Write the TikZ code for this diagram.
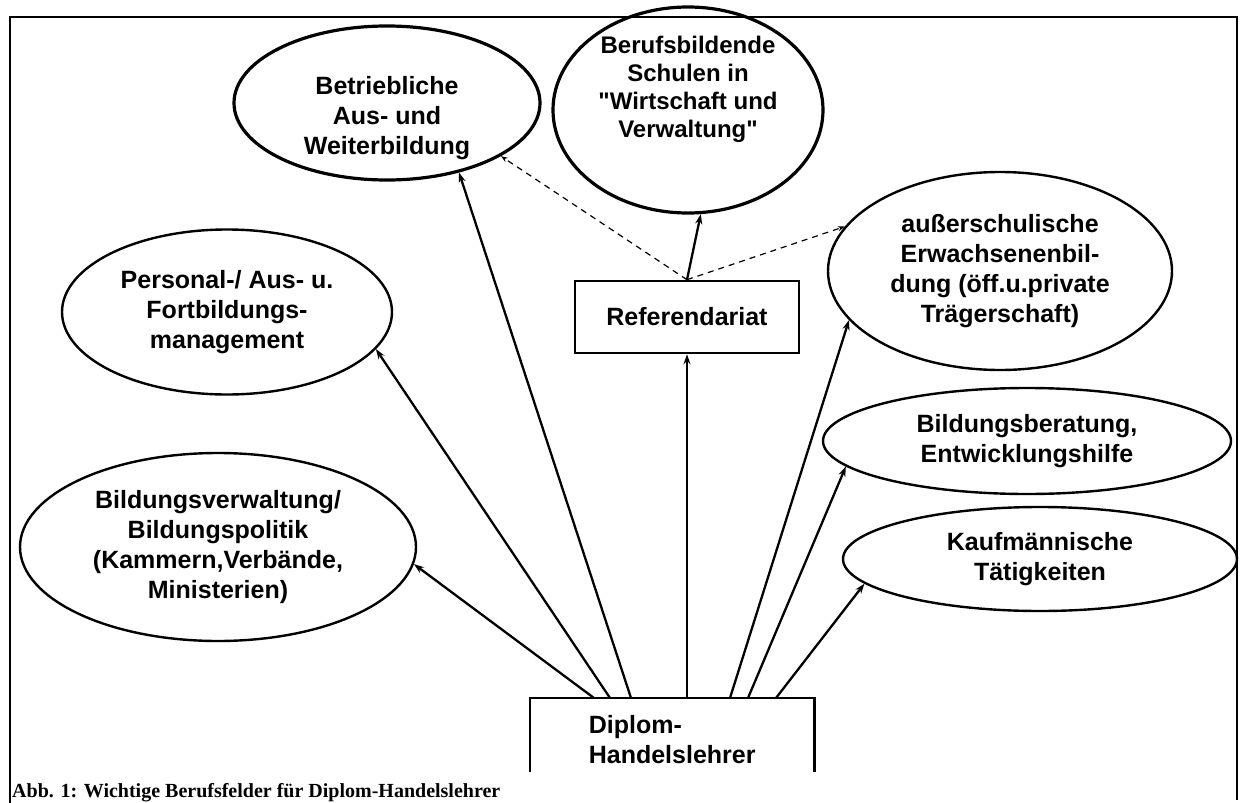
\documentclass[tikz,border=0pt]{standalone}
\usepackage{fontspec}
\setmainfont{Liberation Sans}[Ligatures=TeXOff]
\newfontfamily\capfont{Liberation Serif}
\usetikzlibrary{shapes.geometric,arrows.meta}
% text block moved vertically by #1 (raise of the baseline), column type #2
\newcommand\movedtext[3]{\raisebox{#1}[0pt][0pt]{\begin{tabular}{@{}#2@{}}#3\end{tabular}}}
\begin{document}
\begin{tikzpicture}[x=1pt,y=-1pt,
  field/.style={ellipse,draw,line width=2.4pt,inner sep=0pt,align=center,
    font=\fontsize{25}{30}\selectfont\bfseries},
  heavy field/.style={field,line width=3.2pt},
  refbox/.style={rectangle,draw,line width=2.6pt,inner sep=0pt,
    font=\fontsize{25}{30}\selectfont\bfseries},
  link/.style={line width=2.3pt,-{Stealth[length=10pt,width=7pt]}},
  dlink/.style={line width=1.2pt,dash pattern=on 6pt off 5pt,-{Stealth[length=7pt,width=5pt]}},
]
\useasboundingbox (0,0) rectangle (1243,803);
\fill[white] (0,0) rectangle (1243,803);
% frame
\draw[line width=2pt] (10,803) -- (10,17) -- (1237,17) -- (1237,800);

% fields
\node[heavy field, minimum width=306pt, minimum height=154pt] (be) at (387,103)
  {\movedtext{-21.25pt}{c}{Betriebliche\\Aus- und\\Weiterbildung}};
\node[heavy field, minimum width=270pt, minimum height=206pt,
  font=\fontsize{24}{28}\selectfont\bfseries] (bb) at (688,110)
  {\movedtext{14pt}{c}{Berufsbildende\\Schulen in\\"Wirtschaft und\\Verwaltung"}};
\node[field, minimum width=330pt, minimum height=165pt] (pe) at (227,312)
  {Personal-/ Aus- u.\\Fortbildungs-\\management};
\node[field, minimum width=344pt, minimum height=198pt] (au) at (1000,271)
  {außerschulische\\Erwachsenenbil-\\dung (öff.u.private\\Trägerschaft)};
\node[field, minimum width=408pt, minimum height=106pt] (bbe) at (1027,441)
  {Bildungsberatung,\\Entwicklungshilfe};
\node[field, minimum width=394pt, minimum height=104pt] (ka) at (1040,559)
  {Kaufmännische\\Tätigkeiten};
\node[field, minimum width=396pt, minimum height=188pt] (bv) at (218,547)
  {Bildungsverwaltung/\\Bildungspolitik\\(Kammern,Verbände,\\Ministerien)};

% boxes
\node[refbox, minimum width=224pt, minimum height=72pt] (ref) at (687,317) {Referendariat};
\node[rectangle, inner sep=0pt, minimum width=284pt, minimum height=74pt,
  anchor=north west, font=\fontsize{25}{30}\selectfont\bfseries] (dip) at (530,698)
  {\movedtext{-13.25pt}{l}{Diplom-\\Handelslehrer}};
\draw[line width=2.8pt] (dip.south west) -- (dip.north west) -- (dip.north east) -- (dip.south east);

% connectors
\draw[link] ([xshift=64pt]dip.north west) -- (bv.-5);
\draw[link] ([xshift=80pt]dip.north west) -- (pe.-14);
\draw[link] ([xshift=101pt]dip.north west) -- (be.-44);
\draw[link] (ref.south |- dip.north) -- (ref.south);
\draw[link] ([xshift=200pt]dip.north west) -- (au.198);
\draw[link] ([xshift=218pt]dip.north west) -- (bbe.188);
\draw[link] ([xshift=246pt]dip.north west) -- (ka.188);
\draw[link] (ref.north) -- (bb.-83);
\draw[dlink] (ref.north) -- (be.-25);
\draw[dlink] (ref.north) -- (au.164);

% caption
\node[anchor=base west, inner sep=0pt,
  font={\capfont\fontsize{20}{24}\selectfont\bfseries}] (cap) at (12,797)
  {Abb. 1: Wichtige Berufsfelder für Diplom-Handelslehrer};
\end{tikzpicture}
\end{document}
